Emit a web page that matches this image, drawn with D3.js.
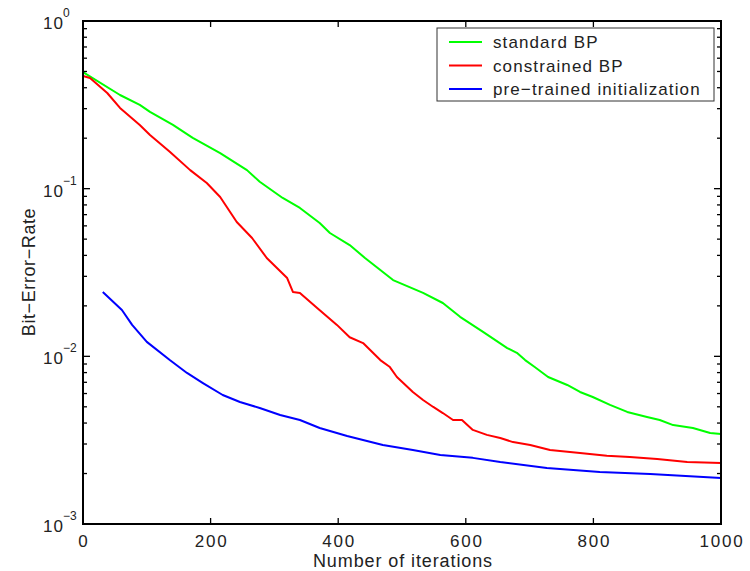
<!DOCTYPE html>
<html><head><meta charset="utf-8">
<script src="https://cdn.jsdelivr.net/npm/d3@7"></script>
<style>body{margin:0;background:#fff}svg{display:block}text{font-family:"Liberation Sans",Arial,Helvetica,sans-serif}</style>
</head><body>
<svg id="c" width="750" height="571"></svg>
<script>
const seriesNames = ["standard BP", "constrained BP", "pre-trained initialization"];
const seriesColors = ["#00ff00", "#ff0000", "#0000ff"];
const standardIter = [0,58,89,105,141,172,215,257,277,313,340,371,387,418,442,486,533,564,591,627,665,680,693,708,729,759,779,799,826,853,884,904,925,956,983,1000];
const standardBER = [0.496,0.362,0.316,0.287,0.240,0.201,0.163,0.129,0.110,0.088,0.0767,0.0624,0.0544,0.0461,0.0386,0.0285,0.0239,0.0208,0.0172,0.0140,0.0112,0.0105,0.0095,0.00863,0.00753,0.00675,0.00613,0.00572,0.00513,0.00466,0.00435,0.00417,0.00389,0.00374,0.00349,0.00344];
const constrainedIter = [0,11,38,58,89,105,136,168,194,215,241,265,288,320,329,340,367,398,418,439,466,481,492,502,517,533,549,564,580,594,611,633,654,674,701,732,779,821,857,900,947,1000];
const constrainedBER = [0.47,0.457,0.372,0.303,0.240,0.209,0.166,0.129,0.108,0.0892,0.0633,0.0508,0.0386,0.0293,0.0242,0.0239,0.0194,0.0154,0.0130,0.0120,0.0095,0.00863,0.00753,0.00693,0.00613,0.00549,0.00499,0.00459,0.00417,0.00417,0.00364,0.00340,0.00326,0.00308,0.00296,0.00276,0.00265,0.00255,0.00251,0.00244,0.00234,0.00231];
const pretrainedIter = [31,61,77,100,136,163,188,219,246,277,309,340,371,414,470,517,560,611,654,727,810,889,1000];
const pretrainedBER = [0.0242,0.0189,0.0154,0.0122,0.0095,0.00796,0.00693,0.00588,0.00534,0.00492,0.00447,0.00417,0.00374,0.00335,0.00296,0.00276,0.00258,0.00248,0.00234,0.00216,0.00204,0.00199,0.00188];
const xTicks = [0,200,400,600,800,1000];
const yExps = [0,-1,-2,-3];

const L=83,R=721,T=21,B=524;
const svg=d3.select("#c");
const x=d3.scaleLinear().domain([0,1000]).range([L,R]);
const y=d3.scaleLog().domain([1e-3,1]).range([B,T]);

const series=[[standardIter,standardBER],[constrainedIter,constrainedBER],[pretrainedIter,pretrainedBER]];
const line=d3.line().x(d=>x(d[0])).y(d=>y(d[1]));
series.forEach((s,i)=>{
  const pts=s[0].map((v,j)=>[v,s[1][j]]);
  svg.append("path").attr("d",line(pts)).attr("fill","none")
    .attr("stroke",seriesColors[i]).attr("stroke-width",2).attr("stroke-linejoin","round");
});

// frame
svg.append("rect").attr("x",L).attr("y",T).attr("width",R-L).attr("height",B-T)
  .attr("fill","none").attr("stroke","#000").attr("stroke-width",2);

const g=svg.append("g").attr("stroke","#000").attr("stroke-width",1.3);
xTicks.forEach(t=>{
  g.append("line").attr("x1",x(t)).attr("x2",x(t)).attr("y1",B).attr("y2",B-6);
  g.append("line").attr("x1",x(t)).attr("x2",x(t)).attr("y1",T).attr("y2",T+6);
});
const minor=[];
for(let e=-3;e<0;e++) for(let m=2;m<=9;m++) minor.push(m*Math.pow(10,e));
minor.forEach(v=>{
  g.append("line").attr("x1",L).attr("x2",L+4).attr("y1",y(v)).attr("y2",y(v));
  g.append("line").attr("x1",R).attr("x2",R-4).attr("y1",y(v)).attr("y2",y(v));
});
yExps.forEach(e=>{
  const v=Math.pow(10,e);
  g.append("line").attr("x1",L).attr("x2",L+7).attr("y1",y(v)).attr("y2",y(v));
  g.append("line").attr("x1",R).attr("x2",R-7).attr("y1",y(v)).attr("y2",y(v));
});

// x tick labels
xTicks.forEach(t=>{
  svg.append("text").attr("x",x(t)+1).attr("y",B+23).attr("text-anchor","middle")
    .attr("font-size",17).attr("letter-spacing",1.8).attr("fill","#222").text(t);
});
// y tick labels
yExps.forEach(e=>{
  const yy=y(Math.pow(10,e));
  svg.append("text").attr("x",64).attr("y",yy+8).attr("text-anchor","end").attr("font-size",17).attr("letter-spacing",1).attr("fill","#222").text("10");
  svg.append("text").attr("x",63).attr("y",yy-4).attr("font-size",12).attr("fill","#222").text(e===0?"0":"\u2212"+(-e));
});

svg.append("text").attr("x",403).attr("y",567).attr("text-anchor","middle").attr("font-size",18).attr("letter-spacing",0.9).attr("fill","#222").text("Number of iterations");
svg.append("text").attr("transform","translate(35,272) rotate(-90)").attr("text-anchor","middle").attr("font-size",18).attr("letter-spacing",0.6).attr("fill","#222").text("Bit\u2212Error\u2212Rate");

// legend
svg.append("rect").attr("x",437).attr("y",28).attr("width",277).attr("height",73).attr("fill","#fff").attr("stroke","#333").attr("stroke-width",1);
seriesNames.forEach((n,i)=>{
  const ly=42+i*23.5;
  svg.append("line").attr("x1",449).attr("x2",482).attr("y1",ly).attr("y2",ly).attr("stroke",seriesColors[i]).attr("stroke-width",2);
  svg.append("text").attr("x",493).attr("y",ly+6).attr("font-size",17).attr("letter-spacing",1.1).attr("fill","#222").text(n.replace("-","\u2212"));
});
</script>
</body></html>
